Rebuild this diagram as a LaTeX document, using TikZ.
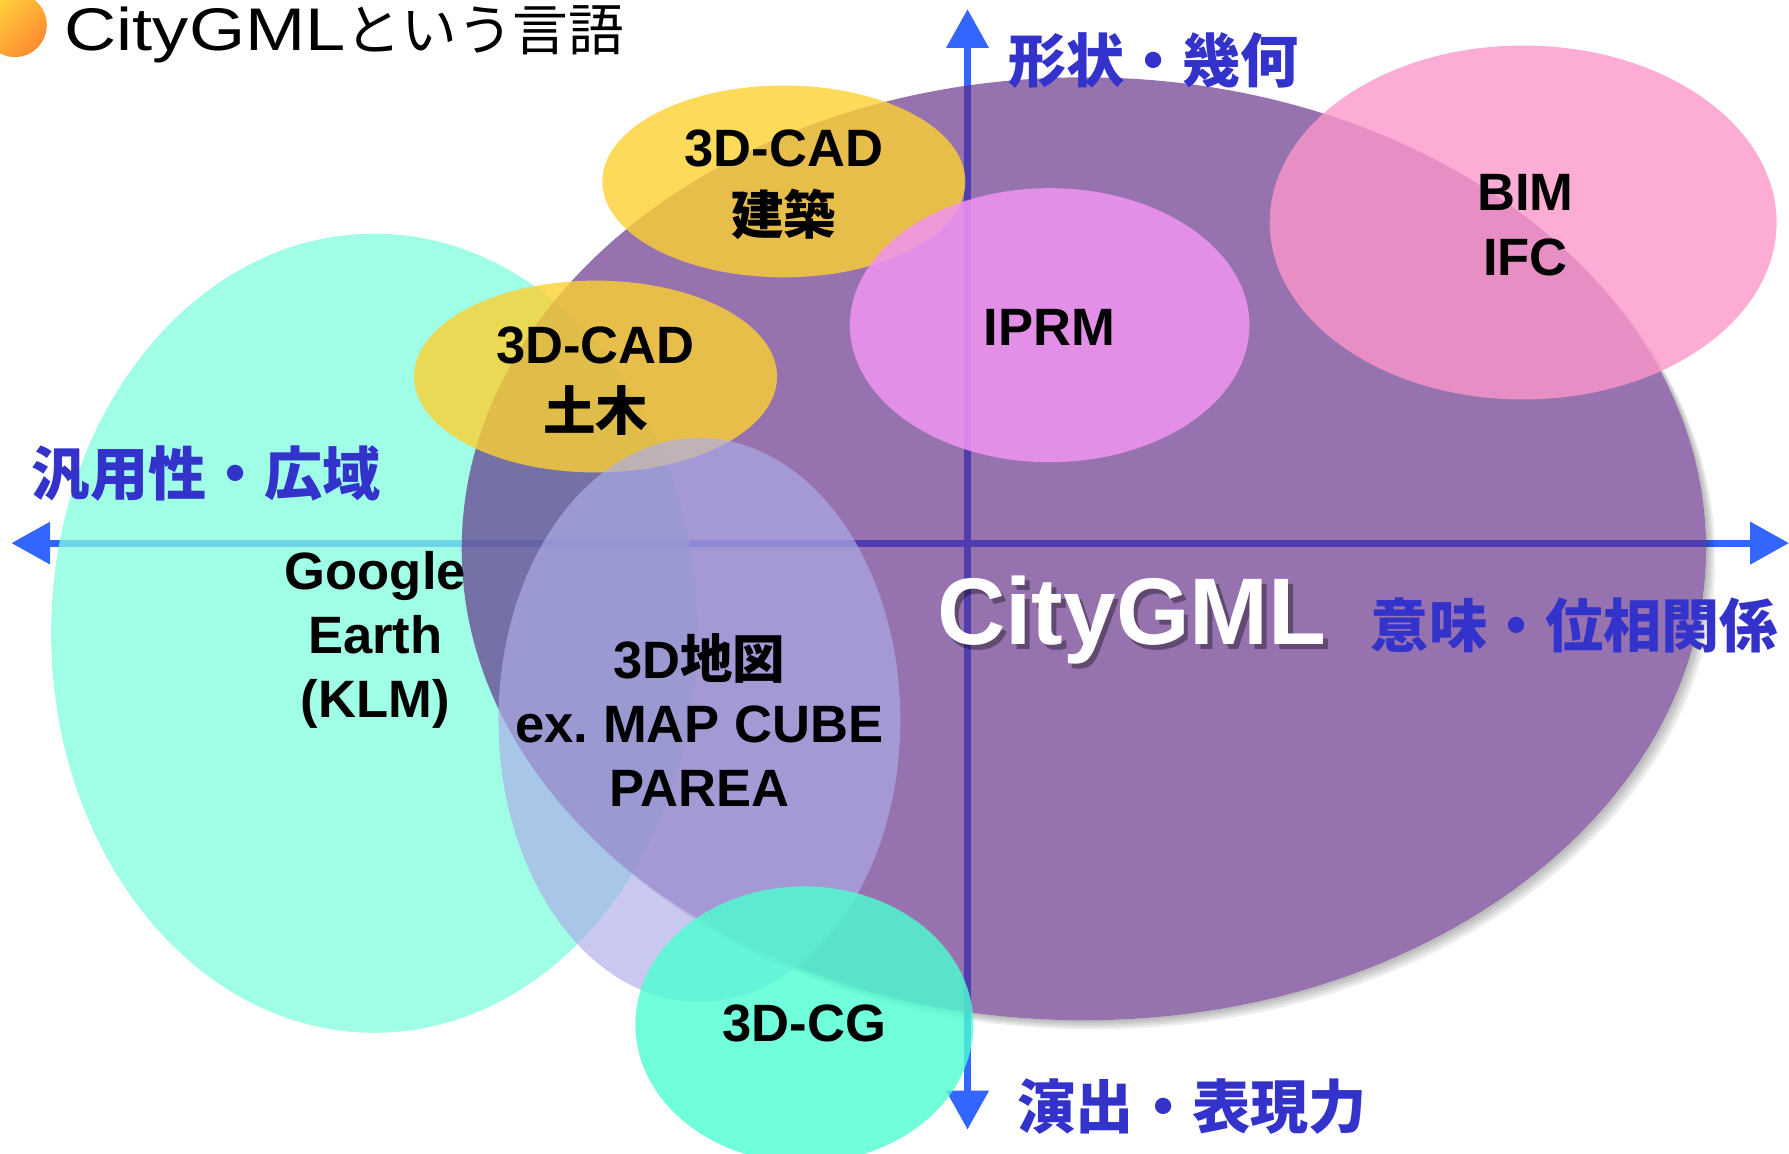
\documentclass[tikz,border=0pt]{standalone}
\usepackage{fontspec}
\setmainfont{Liberation Sans}
\newfontfamily\jp{Noto Sans CJK JP}
\usetikzlibrary{arrows.meta}
\frenchspacing
\definecolor{axisblue}{RGB}{51,102,255}
\definecolor{lblblue}{RGB}{51,51,204}
\definecolor{cgmlpurple}{RGB}{96,41,134}
\definecolor{gecyan}{RGB}{128,252,222}
\definecolor{maplav}{RGB}{173,173,233}
\definecolor{cadyellow}{RGB}{252,209,49}
\definecolor{iprmpink}{RGB}{242,147,242}
\definecolor{bimpink}{RGB}{252,151,202}
\definecolor{cgteal}{RGB}{76,255,209}
\definecolor{dotyellow}{RGB}{255,212,60}
\definecolor{dotorange}{RGB}{255,140,50}
\begin{document}
\begin{tikzpicture}[x=0.01cm,y=-0.01cm,
  axisline/.style={line width=1.7pt,draw=axisblue},
  tipa/.tip={Triangle[length=0.34cm,width=0.36cm]},
  lbl/.style={font=\fontsize{13.1}{16.2}\selectfont\bfseries,align=center,text=black,inner sep=0pt},
  axlbl/.style={font=\jp\bfseries\fontsize{14.5}{15}\selectfont,text=lblblue,inner sep=0pt},
  blob/.style={draw=none}]
\useasboundingbox (0,0) rectangle (1568,1011);
% title
\shade[top color=dotyellow,bottom color=dotorange,shading angle=45] (13,22) circle [radius=0.28cm];
\node[anchor=base west,inner sep=0pt] (title) at (56,44)
  {\scalebox{1.2}[1]{\fontsize{15}{15}\selectfont CityGML}{\jp\fontsize{13.9}{14}\selectfont という言語}};
% axes
\coordinate (xl) at (10,476);
\coordinate (xr) at (1568,476);
\coordinate (yt) at (848,8);
\coordinate (yb) at (848,990);
\draw[axisline,tipa-tipa] (xl) -- (xr);
\draw[axisline,tipa-tipa] (yt) -- (yb);
% Google Earth
\fill[gecyan,opacity=0.75] (328,555) ellipse [x radius=2.83cm,y radius=3.50cm];
% CityGML shadow
\begin{scope}[even odd rule]
\clip (-50,-50) rectangle (1650,1100) (950,481) ellipse [x radius=5.45cm,y radius=4.13cm];
\foreach \d in {2,4,6,8}
  \fill[black,opacity=0.07] (950+\d,481+\d) ellipse [x radius=5.45cm,y radius=4.13cm];
\end{scope}
\fill[cgmlpurple,opacity=0.66] (950,481) ellipse [x radius=5.45cm,y radius=4.13cm];
% CAD
\fill[cadyellow,opacity=0.8] (687,159) ellipse [x radius=1.59cm,y radius=0.84cm];
\fill[cadyellow,opacity=0.8] (522,330) ellipse [x radius=1.59cm,y radius=0.84cm];
% 3D map
\fill[maplav,opacity=0.67] (613,631) ellipse [x radius=1.76cm,y radius=2.47cm];
% IPRM
\fill[iprmpink,opacity=0.85] (920,285) ellipse [x radius=1.75cm,y radius=1.20cm];
% BIM
\fill[bimpink,opacity=0.8] (1335,195) ellipse [x radius=2.22cm,y radius=1.55cm];
% 3D-CG
\fill[cgteal,opacity=0.8] (705,898) ellipse [x radius=1.48cm,y radius=1.21cm];
% labels
\node[lbl,font=\fontsize{13.1}{16.8}\selectfont\bfseries] (cadA) at (687,162) {3D-CAD\\{\jp 建築}};
\node[lbl,font=\fontsize{13.1}{16.8}\selectfont\bfseries] (cadC) at (522,334) {3D-CAD\\{\jp 土木}};
\node[lbl,anchor=base] (iprm) at (920,303) {IPRM};
\node[lbl] (bim) at (1337,197) {BIM\\IFC};
\node[lbl,font=\fontsize{13.1}{15.9}\selectfont\bfseries] (ge) at (329,561) {Google\\Earth\\(KLM)};
\node[lbl,font=\fontsize{13.1}{15.9}\selectfont\bfseries] (map) at (613,631) {3D{\jp 地図}\\ex. MAP CUBE\\PAREA};
\node[lbl,anchor=base] (cg) at (705,913) {3D-CG};
\node[anchor=base,inner sep=0pt,font=\fontsize{23.6}{24}\selectfont\bfseries,text=black,text opacity=0.35] (cgmlsh) at (996,569) {CityGML};
\node[anchor=base,inner sep=0pt,font=\fontsize{23.6}{24}\selectfont\bfseries,text=white] (cgml) at (992,565) {CityGML};
% axis labels
\node[axlbl] (top) at (1011,53) {形状・幾何};
\node[axlbl] (left) at (181,415) {汎用性・広域};
\node[axlbl] (right) at (1380,548) {意味・位相関係};
\node[axlbl] (bottom) at (1045,970) {演出・表現力};
\end{tikzpicture}
\end{document}
